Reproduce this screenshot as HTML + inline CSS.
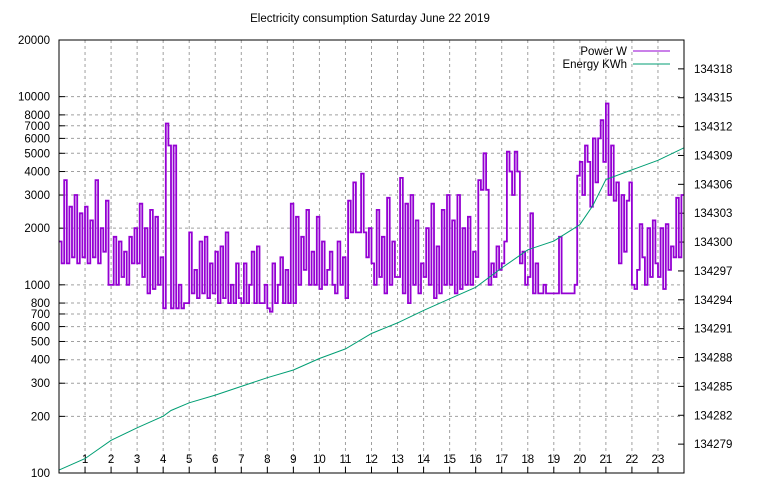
<!DOCTYPE html>
<html><head><meta charset="utf-8"><style>
body{margin:0;background:#fff;}
svg{display:block;font-family:"Liberation Sans","DejaVu Sans",sans-serif;font-size:11.5px;}
</style></head><body>
<svg id="chart" width="768" height="500" viewBox="0 0 768 500" xmlns="http://www.w3.org/2000/svg">
<text x="370" y="22" text-anchor="middle">Electricity consumption Saturday June 22 2019</text>
<g id="grid"></g>
<g id="axes"></g>
<g id="series"></g>
<g id="legend">
<text x="627" y="55" text-anchor="end">Power W</text>
<line x1="633" y1="51" x2="670" y2="51" stroke="#9400d3" stroke-width="1"/>
<text x="627" y="68" text-anchor="end">Energy KWh</text>
<line x1="633" y1="64" x2="670" y2="64" stroke="#009e73" stroke-width="1"/>
</g>
<rect x="59" y="40" width="625" height="433" fill="none" stroke="#000" stroke-width="1"/>
</svg>
<script>
const leftTicks=[100,200,300,400,500,600,700,800,1000,2000,3000,4000,5000,6000,7000,8000,10000,20000];
const rightTicks=[134279,134282,134285,134288,134291,134294,134297,134300,134303,134306,134309,134312,134315,134318];
const hourTicks=[1,2,3,4,5,6,7,8,9,10,11,12,13,14,15,16,17,18,19,20,21,22,23];
// power every 0.1 h
const power=[
1700,1300,3600,1300,2600,1400,3000,1300,2400,1400,
2600,1300,2200,1400,3600,1300,2000,1500,2800,1000,
1000,1800,1000,1700,1100,1500,1000,1800,1300,2000,
1300,2700,1100,2000,900,2500,950,2300,1000,1400,
750,7200,5500,750,5500,750,1000,750,800,800,
1900,900,1200,850,1700,900,1800,850,1300,900,
1500,800,1600,850,1900,800,1000,800,1300,850,
800,1300,800,1000,1500,800,1600,800,800,1000,
750,720,1300,800,1000,1400,800,1200,800,2700,
800,2300,1000,1800,1200,2500,1000,1500,1000,2300,
950,1700,1000,1200,1500,1000,900,1700,1000,1400,
850,2800,1900,3500,1900,1900,3900,1900,1400,2000,
1300,1000,2500,1100,1800,900,2900,1000,1700,1100,
1100,3700,900,2700,800,3000,1000,2200,900,1300,
1100,2000,1000,2700,850,1600,900,2500,1000,3000,
1000,2200,900,3000,950,2000,1000,2300,1000,1500,
1100,3600,3200,5000,3200,1000,1300,1100,1600,1200,
1300,1700,5100,4000,3000,5100,4000,1300,1500,1000,
1100,2400,900,1300,900,900,1000,900,900,900,
900,900,1800,900,900,900,900,900,1000,3800,
4500,3000,5500,4500,2600,6000,3500,6000,7500,4500,
9200,3000,5500,2800,3500,1300,3000,1500,2800,3500,
1000,950,1200,2100,1400,1000,2000,1100,2200,1300,
1100,2000,950,2100,1200,1600,1400,2900,1400,3000];
const energyHours=[0,1,2,3,4,4.3,5,6,7,8,9,10,11,12,13,14,15,16,17,18,19,20,20.5,21,22,23,24];
const energy=[134276.3,134277.5,134279.4,134280.7,134281.9,134282.5,134283.3,134284.1,134285.0,134285.9,134286.7,134287.9,134288.9,134290.5,134291.6,134292.9,134294.1,134295.3,134297.3,134299.2,134300.1,134301.8,134303.8,134306.5,134307.5,134308.5,134309.8];

const L=59,R=684,T=40,B=473;
const NS="http://www.w3.org/2000/svg";
function X(h){return L+(R-L)*h/24;}
function Y(v){return B-(B-T)*(Math.log10(v)-2)/(Math.log10(20000)-2);}
function Y2(v){return B-(B-T)*(v-134276)/(134321-134276);}
function mk(tag,attrs,parent){const e=document.createElementNS(NS,tag);for(const k in attrs)e.setAttribute(k,attrs[k]);parent.appendChild(e);return e;}
const grid=document.getElementById('grid'),axes=document.getElementById('axes'),series=document.getElementById('series');

leftTicks.forEach(v=>{const y=Y(v);
 if(v>100&&v<20000){const g=mk('line',{x1:L,x2:R,y1:y,y2:y,stroke:'#a0a0a0','stroke-dasharray':'3,3'},grid);
 
 }
 const t=mk('line',{x1:L,x2:L+6,y1:y,y2:y,stroke:'#000'},axes);
 
 
 const tx=mk('text',{x:L-9,y:y+4,'text-anchor':'end'},axes);tx.textContent=v;
 
 
});
rightTicks.forEach(v=>{const y=Y2(v);
 const t=mk('line',{x1:R-6,x2:R,y1:y,y2:y,stroke:'#000'},axes);
 
 
 const tx=mk('text',{x:694,y:y+4},axes);tx.textContent=v;
 
 
});
hourTicks.forEach(h=>{const x=X(h);
 const g=mk('line',{x1:x,x2:x,y1:T,y2:B,stroke:'#a0a0a0','stroke-dasharray':'3,3'},grid);
 
 
 const t=mk('line',{x1:x,x2:x,y1:B-6,y2:B,stroke:'#000'},axes);
 
 
 const tx=mk('text',{x:x,y:B-10,'text-anchor':'middle'},axes);tx.textContent=h;
 
 
});
let d='';const step=24/power.length;
power.forEach((v,i)=>{const x0=X(i*step),x1=X((i+1)*step),y=Y(v);d+=(i?'L':'M')+x0.toFixed(1)+','+y.toFixed(1)+'L'+x1.toFixed(1)+','+y.toFixed(1);});
const pl=mk('path',{d:d,fill:'none',stroke:'#9400d3','stroke-width':1.8},series);


let e='';energyHours.forEach((h,i)=>{e+=(i?'L':'M')+X(h).toFixed(1)+','+Y2(energy[i]).toFixed(1);});
const el=mk('path',{d:e,fill:'none',stroke:'#009e73','stroke-width':1},series);


</script>
</body></html>
